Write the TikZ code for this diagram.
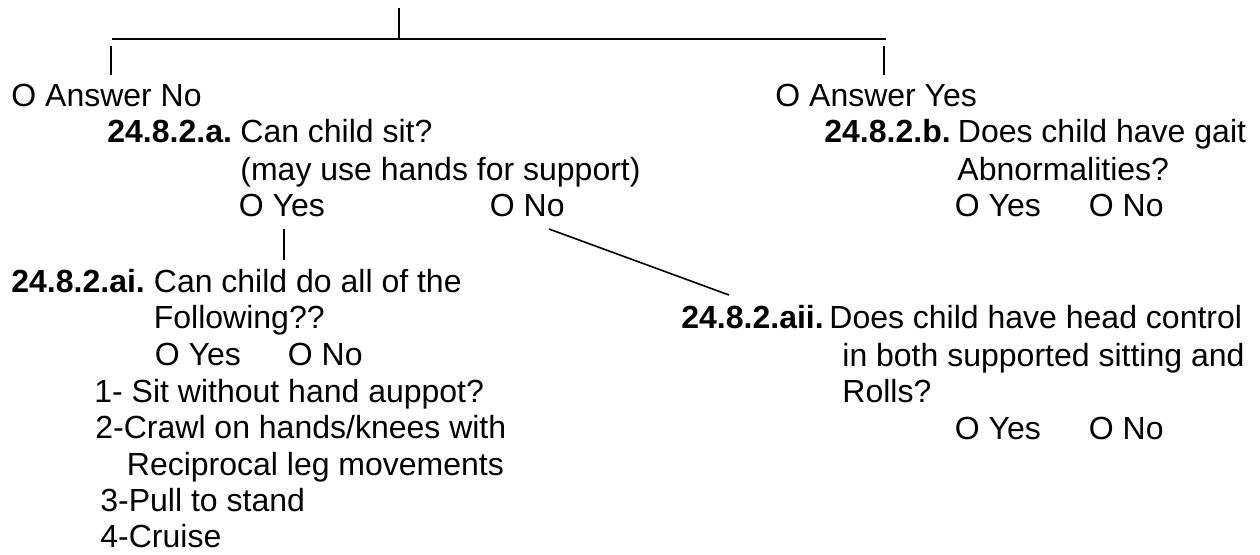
\documentclass[tikz,border=0pt]{standalone}
\usepackage{fontspec}
\setmainfont{Liberation Sans}
\begin{document}
\begin{tikzpicture}[x=0.5pt,y=-0.5pt,
  txt/.style={anchor=base west,inner sep=0pt,font=\fontsize{16}{19}\selectfont},
  lbl/.style={txt,font=\fontsize{16}{19}\selectfont\bfseries},
  conn/.style={line width=1pt,black},
  diag/.style={line width=0.8pt,black}]
\useasboundingbox (0,0) rectangle (1260,554);
% left branch
\node[txt] (ansno)  at (11,106)  {O Answer No};
\node[lbl] (q2al)   at (107,142) {24.8.2.a.};
\node[txt] (q2a)    at (240,142) {Can child sit?};
\node[txt] (q2a2)   at (240,180) {(may use hands for support)};
\node[txt] (q2ayes) at (238.5,216) {O Yes};
\node[txt] (q2ano)  at (489.5,216) {O No};
\node[lbl] (qail)   at (11,292)  {24.8.2.ai.};
\node[txt] (qai)    at (153.5,292) {Can child do all of the};
\node[txt] (qai2)   at (153.5,328) {Following??};
\node[txt] (qaiyes) at (154.5,365) {O Yes};
\node[txt] (qaino)  at (287.5,365) {O No};
\node[txt] (i1)     at (94,402)  {1- Sit without hand auppot?};
\node[txt] (i2)     at (95,438)  {2-Crawl on hands/knees with};
\node[txt] (i2b)    at (126.5,475) {Reciprocal leg movements};
\node[txt] (i3)     at (100,511) {3-Pull to stand};
\node[txt] (i4)     at (100,547) {4-Cruise};
% right branch
\node[txt] (ansyes) at (775,106) {O Answer Yes};
\node[lbl] (qbl)    at (824,142) {24.8.2.b.};
\node[txt] (qb)     at (957.5,142) {Does child have gait};
\node[txt] (qb2)    at (957,180) {Abnormalities?};
\node[txt] (qbyes)  at (954.5,216) {O Yes};
\node[txt] (qbno)   at (1088.5,216) {O No};
% aii
\node[lbl] (qaiil)  at (681,328) {24.8.2.aii.};
\node[txt] (qaii)   at (829,328) {Does child have head control};
\node[txt] (qaii2)  at (842,366) {in both supported sitting and};
\node[txt] (qaii3)  at (842,402) {Rolls?};
\node[txt] (qaiiyes) at (954.5,439) {O Yes};
\node[txt] (qaiino)  at (1088.5,439) {O No};
% connector points
\coordinate (root) at (399,8);
\coordinate (jn)   at (399,38.5);
\coordinate (hl)   at (112,38.5);
\coordinate (hr)   at (886,38.5);
\coordinate (lbt)  at (111,46);
\coordinate (lbb)  at (111,75);
\coordinate (rbt)  at (884,46);
\coordinate (rbb)  at (884,75);
\coordinate (ybt)  at (284,229);
\coordinate (ybb)  at (284,260);
\coordinate (dgs)  at (549,229);
\coordinate (dge)  at (729,295);
\draw[conn] (root) -- (jn);
\draw[conn] (hl) -- (hr);
\draw[conn] (lbt) -- (lbb);
\draw[conn] (rbt) -- (rbb);
\draw[conn] (ybt) -- (ybb);
\draw[diag] (dgs) -- (dge);
\end{tikzpicture}
\end{document}
